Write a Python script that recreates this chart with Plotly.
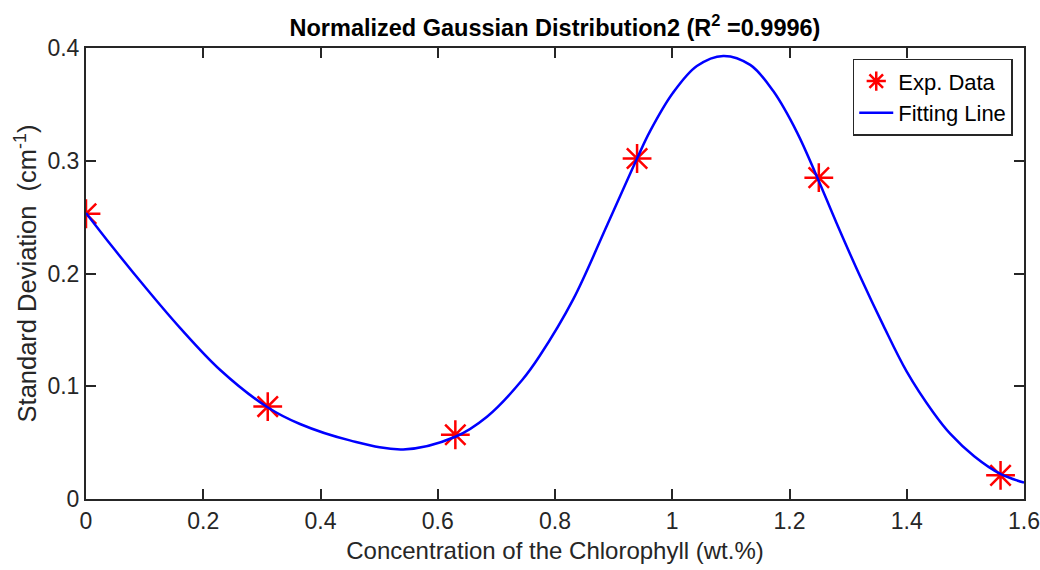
import plotly.graph_objects as go

# Experimental data
exp_x = [0.0, 0.31, 0.63, 0.94, 1.25, 1.56]
exp_y = [0.253, 0.082, 0.057, 0.302, 0.285, 0.021]

# Fitting line
fit_x = [0.0, 0.046, 0.104, 0.160, 0.229, 0.309, 0.365, 0.450, 0.541,
         0.629, 0.684, 0.744, 0.774, 0.831, 0.889, 0.940, 0.962, 1.001, 1.042,
         1.087, 1.133, 1.172, 1.213, 1.247, 1.280, 1.320, 1.360, 1.400, 1.445,
         1.474, 1.515, 1.559, 1.600]
fit_y = [0.2537, 0.223, 0.186, 0.152, 0.1144, 0.0816, 0.0665, 0.052, 0.044,
         0.055, 0.073, 0.1055, 0.127, 0.177, 0.243, 0.302, 0.326, 0.360, 0.384,
         0.393, 0.385, 0.362, 0.325, 0.2856, 0.245, 0.198, 0.154, 0.113, 0.077,
         0.058, 0.038, 0.0225, 0.0145]

x_ticks = [0, 0.2, 0.4, 0.6, 0.8, 1.0, 1.2, 1.4, 1.6]
x_tick_text = ["0", "0.2", "0.4", "0.6", "0.8", "1", "1.2", "1.4", "1.6"]
y_ticks = [0, 0.1, 0.2, 0.3, 0.4]
y_tick_text = ["0", "0.1", "0.2", "0.3", "0.4"]

REG = "Liberation Sans, Arial, sans-serif"
AX = "#262626"

fig = go.Figure()
fig.add_trace(go.Scatter(
    x=exp_x, y=exp_y, mode="markers", name="Exp. Data",
    marker=dict(symbol="asterisk-open", size=24, color="red",
                line=dict(color="red", width=2.5)),
))
fig.add_trace(go.Scatter(
    x=fit_x, y=fit_y, mode="lines", name="Fitting Line",
    line=dict(color="blue", width=2.5, shape="spline", smoothing=1.0),
))

axis_common = dict(
    showline=True, linecolor=AX, linewidth=2, mirror="ticks",
    ticks="inside", ticklen=10, tickwidth=2, tickcolor=AX,
    showgrid=False, zeroline=False, ticklabeloverflow="allow",
    automargin=False,
    tickfont=dict(family=REG, size=23, color=AX),
)

fig.update_layout(
    width=1040, height=570,
    margin=dict(l=86, r=16, t=48, b=71),
    paper_bgcolor="white", plot_bgcolor="white",
    title=dict(
        text="<b>Normalized Gaussian Distribution2 (R<sup>2</sup> =0.9996)</b>",
        x=(86 + 1024) / 2 / 1040, xanchor="center",
        y=1 - 28 / 570, yanchor="middle",
        font=dict(family=REG, size=23.5, color="black"),
    ),
    xaxis=dict(range=[0, 1.6], tickvals=x_ticks, ticktext=x_tick_text,
               title=dict(text="Concentration of the Chlorophyll (wt.%)",
                          font=dict(family=REG, size=24, color=AX), standoff=10),
               **axis_common),
    yaxis=dict(range=[0, 0.4], tickvals=y_ticks, ticktext=y_tick_text,
               title=dict(text="Standard Deviation \u00a0(cm<sup>-1</sup>)",
                          font=dict(family=REG, size=25.5, color=AX), standoff=3),
               **axis_common),
    legend=dict(
        x=0.988, y=0.976, xanchor="right", yanchor="top",
        bgcolor="white", bordercolor=AX, borderwidth=1.5,
        font=dict(family=REG, size=22, color="black"),
        itemwidth=34, tracegroupgap=0,
    ),
    showlegend=True,
)

fig.write_html("out.html")
